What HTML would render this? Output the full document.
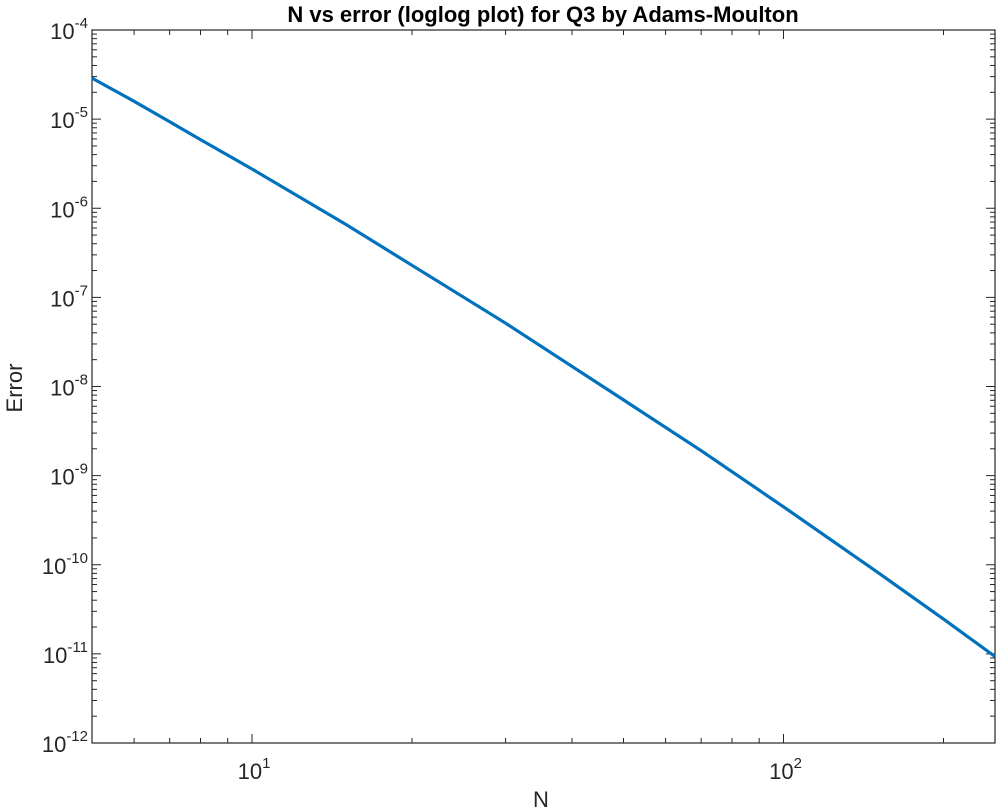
<!DOCTYPE html>
<html><head><meta charset="utf-8"><style>
body{margin:0;background:#fff;}
svg{display:block;font-family:"Liberation Sans",Arial,sans-serif;}
</style></head><body>
<svg id="chart" width="1000" height="810">
<rect width="1000" height="810" fill="#fff"/>
<text x="543" y="22" text-anchor="middle" font-weight="bold" font-size="22" fill="#000">N vs error (loglog plot) for Q3 by Adams-Moulton</text>
<text x="541" y="807" text-anchor="middle" font-size="22" fill="#262626">N</text>
<text transform="translate(22,388) rotate(-90)" text-anchor="middle" font-size="22" fill="#262626">Error</text>
<g id="axes"></g>
<g id="series"></g>
</svg>
<script>
const nValues = [5, 6, 7, 8, 10, 15, 20, 30, 50, 70, 100, 150, 200, 250];
const errorLog10 = [-4.54, -4.80, -5.03, -5.23, -5.56, -6.18, -6.64, -7.29, -8.15, -8.72, -9.35, -10.08, -10.61, -11.03];
const xTickExps = [1, 2];
const yTickExps = [-4, -5, -6, -7, -8, -9, -10, -11, -12];
const xDomain = [5, 250];
const yDomain = [-12, -4];

const L = 92, R = 995, T = 30, B = 743;
const NS = 'http://www.w3.org/2000/svg';
function xs(n){ return L + (Math.log10(n) - Math.log10(xDomain[0])) / (Math.log10(xDomain[1]) - Math.log10(xDomain[0])) * (R - L); }
function ys(l){ return B - (l - yDomain[0]) / (yDomain[1] - yDomain[0]) * (B - T); }
function mk(tag, attrs, parent){ const e = document.createElementNS(NS, tag); for (const k in attrs) e.setAttribute(k, attrs[k]); parent.appendChild(e); return e; }

const axes = document.getElementById('axes');
const frame = mk('rect', {x:L, y:T, width:R-L, height:B-T, fill:'none', stroke:'#262626', 'stroke-width':1.2}, axes);



for (let d = 0; d <= 2; d++) {
  for (let m = 1; m <= 9; m++) {
    const v = m * Math.pow(10, d);
    if (v < xDomain[0] || v > xDomain[1]) continue;
    const x = xs(v), len = m === 1 ? 9 : 5;
    const t1 = mk('line', {x1:x, x2:x, y1:B, y2:B-len, stroke:'#262626', 'stroke-width':1}, axes);
    
    
    const t2 = mk('line', {x1:x, x2:x, y1:T, y2:T+len, stroke:'#262626', 'stroke-width':1}, axes);
    
    
  }
}
xTickExps.forEach(e => {
  const x = xs(Math.pow(10, e));
  const t = mk('text', {x:x+2, y:779, 'text-anchor':'middle', 'font-size':22, fill:'#262626'}, axes);
  
  
  t.textContent = '10';
  const s = mk('tspan', {dy:-11, 'font-size':15}, t);
  s.textContent = String(e);
});
for (let d = -12; d <= -4; d++) {
  for (let m = 1; m <= 9; m++) {
    if (d === -4 && m > 1) continue;
    const y = ys(d + Math.log10(m)), len = m === 1 ? 9 : 5;
    const t1 = mk('line', {x1:L, x2:L+len, y1:y, y2:y, stroke:'#262626', 'stroke-width':1}, axes);
    
    
    const t2 = mk('line', {x1:R, x2:R-len, y1:y, y2:y, stroke:'#262626', 'stroke-width':1}, axes);
    
    
  }
}
yTickExps.forEach(e => {
  const y = ys(e);
  const t = mk('text', {x:88, y:y+9, 'text-anchor':'end', 'font-size':22, fill:'#262626'}, axes);
  
  
  t.textContent = '10';
  const s = mk('tspan', {dy:-11, 'font-size':15}, t);
  s.textContent = String(e);
});

const series = document.getElementById('series');
const pts = nValues.map((n, i) => xs(n).toFixed(1) + ',' + ys(errorLog10[i]).toFixed(1)).join(' ');
const line = mk('polyline', {points:pts, fill:'none', stroke:'#0072BD', 'stroke-width':3.2, 'stroke-linejoin':'round'}, series);


</script>
</body></html>
